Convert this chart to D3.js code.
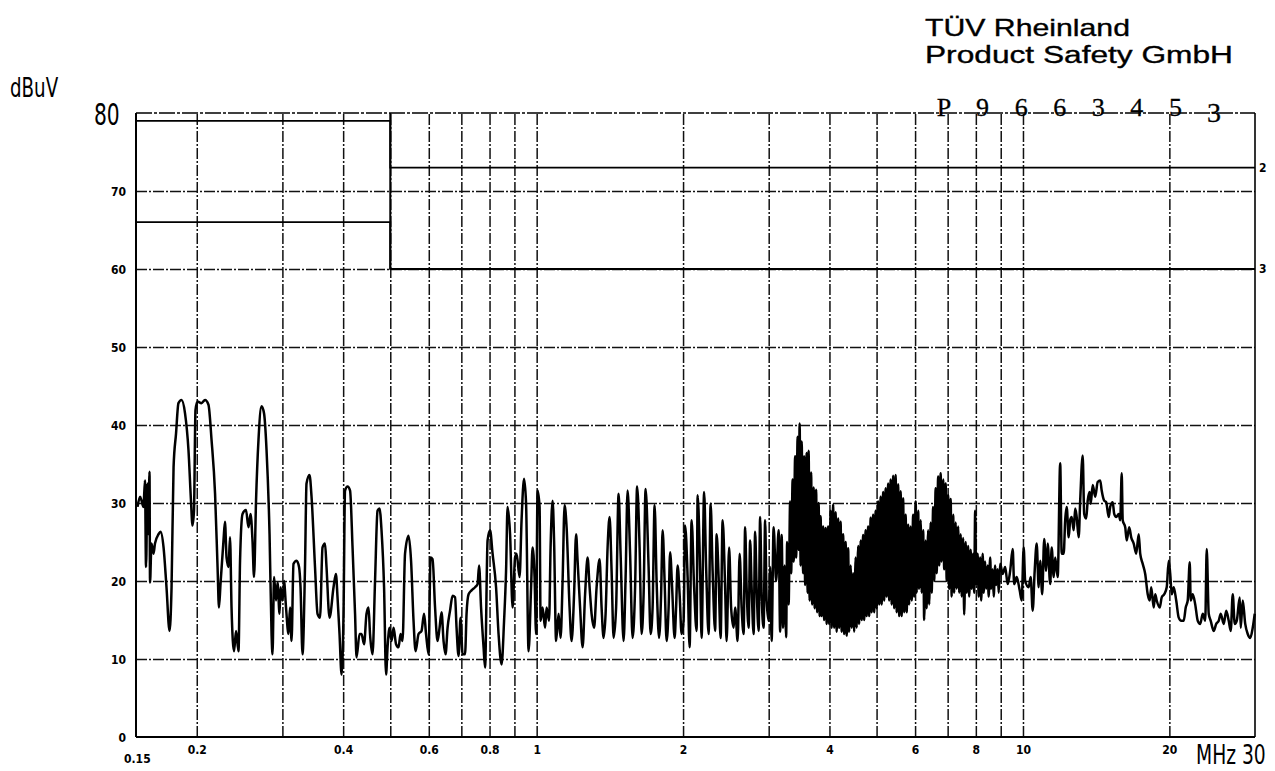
<!DOCTYPE html>
<html>
<head>
<meta charset="utf-8">
<script src="https://cdn.jsdelivr.net/npm/d3@7"></script>
<style>
  html, body { margin: 0; padding: 0; background: #fff; }
  svg { display: block; }
  .narrow { font-family: "Liberation Sans Narrow", "DejaVu Sans Condensed", "DejaVu Sans", sans-serif; font-stretch: condensed; }
  .tick-lbl { font-family: "DejaVu Sans Condensed", "DejaVu Sans", sans-serif; font-stretch: condensed; font-weight: bold; font-size: 12px; fill: #000; }
</style>
</head>
<body>
<svg id="chart" width="1275" height="771"></svg>
<script>
// Conducted emission scan, 150 kHz – 30 MHz, level in dBµV

const yTicks = [10, 20, 30, 40, 50, 60, 70];
const xTickLabels = [0.2, 0.4, 0.6, 0.8, 1, 2, 4, 6, 8, 10, 20];
const xGrid = [0.2, 0.3, 0.4, 0.5, 0.6, 0.7, 0.8, 0.9, 1, 2, 3, 4, 5, 6, 7, 8, 9, 10, 20];

// Limit lines (quasi-peak "2" and average "3")
const limitQP = [[0.15, 79], [0.5, 79], [0.5, 73], [30, 73]];
const limitAV = [[0.15, 66], [0.5, 66], [0.5, 60], [30, 60]];

const headerLines = ["TÜV Rheinland", "Product Safety GmbH"];
const reportNo = ["P", "9", "6", "6", "3", "4", "5", "3"];

// Measured trace, [MHz, dBµV]
const scan150k = [[0.1511,29.5],[0.1529,30.8],[0.1540,30.3],[0.1554,29.5],[0.1565,32.9],[0.1573,21.8],[0.1584,32.5],[0.1591,26],[0.1599,34],[0.1603,19.8],[0.1614,24.8],[0.1630,23.5],[0.1641,24.8],[0.1669,26],[0.1685,26.3],[0.1709,24.3],[0.1733,19.2],[0.1758,13.6],[0.1775,19.2],[0.1792,34.6],[0.1813,38.9],[0.1834,42.8],[0.1861,43.2],[0.1892,41.5],[0.1923,36.8],[0.1946,30.3],[0.1960,27.1],[0.1974,29],[0.1988,41.9],[0.2007,43],[0.2045,42.8],[0.2080,43.2],[0.2114,42.6],[0.2145,38.1],[0.2181,31.2],[0.2207,21.8],[0.2222,16.6],[0.2238,19.6],[0.2270,25.2],[0.2286,27.6],[0.2303,23],[0.2325,21.8],[0.2341,25.6],[0.2358,16.6],[0.2386,11],[0.2409,13.6],[0.2437,11],[0.2455,22.6],[0.2484,28.6],[0.2525,29.1],[0.2555,26.9],[0.2580,28.6],[0.2604,25.2],[0.2623,20.5],[0.2648,30.3],[0.2679,38.1],[0.2718,42.4],[0.2750,41.5],[0.2783,36.8],[0.2823,26],[0.2850,13.2],[0.2863,10.6],[0.2884,20.5],[0.2911,17.5],[0.2932,19.8],[0.2960,15.8],[0.2974,19.2],[0.3002,17.5],[0.3023,20],[0.3052,16.6],[0.3088,13.2],[0.3110,16.6],[0.3133,12.3],[0.3162,22.2],[0.3208,22.6],[0.3246,21.8],[0.3269,19.2],[0.3300,10.6],[0.3339,21.8],[0.3363,32.5],[0.3411,33.6],[0.3444,30.8],[0.3501,21.8],[0.3543,15.8],[0.3585,15.3],[0.3628,24.3],[0.3671,24.8],[0.3697,21.8],[0.3750,15.3],[0.3822,19.2],[0.3865,20.9],[0.3895,17.9],[0.3932,13.2],[0.3970,8],[0.4007,15.8],[0.4036,31.6],[0.4084,32.1],[0.4133,31.6],[0.4182,24.3],[0.4232,15.8],[0.4262,10.2],[0.4323,13.2],[0.4364,13.2],[0.4416,11.9],[0.4468,15.8],[0.4511,16.6],[0.4543,13.2],[0.4597,10.6],[0.4652,20],[0.4707,29],[0.4752,29.3],[0.4797,26.5],[0.4855,19.2],[0.4901,8],[0.4936,11.5],[0.4983,14]];

const scan500k = [[0.5030,12.3],[0.5078,14],[0.5139,11.9],[0.5200,11.5],[0.5249,13.2],[0.5299,12.3],[0.5362,23.5],[0.5452,25.8],[0.5517,22.6],[0.5582,14.9],[0.5636,11],[0.5716,13.2],[0.5798,13.6],[0.5867,15.8],[0.5923,13.2],[0.5994,10.6],[0.6051,23],[0.6108,22.8],[0.6181,16.6],[0.6254,12.3],[0.6314,14],[0.6374,16],[0.6435,12.3],[0.6496,10.6],[0.6558,14],[0.6636,16.2],[0.6715,18.1],[0.6795,17.9],[0.6843,14],[0.6909,10.4],[0.6974,15.3],[0.7041,10.6],[0.7124,10.6],[0.7175,15.8],[0.7244,18.3],[0.7347,18.8],[0.7470,19.2],[0.7559,19.6],[0.7613,22],[0.7685,16.6],[0.7777,11.5],[0.7832,8.9],[0.7926,25.2],[0.8020,26.5],[0.8116,23.5],[0.8251,19.2],[0.8349,13.2],[0.8469,9.3],[0.8570,14.9],[0.8651,21.3],[0.8713,29.5],[0.8817,26],[0.8922,16.6],[0.9028,23],[0.9092,23.5],[0.9223,20.5],[0.9310,27.8],[0.9421,33.1],[0.9511,29.9],[0.9624,11],[0.9739,19.2],[0.9808,24.3],[0.9901,20.5],[0.9972,13.2],[1.0043,31.6],[1.0139,29.5],[1.0187,14.9],[1.0284,16.6],[1.0406,14],[1.0480,16.6],[1.0605,14.9],[1.0681,24.3],[1.0783,30.3],[1.0859,25.2],[1.0963,12.3],[1.1093,15.8],[1.1199,12.7],[1.1306,20],[1.1413,29.7],[1.1522,26.9],[1.1686,16.6],[1.1798,12.3],[1.1938,18.3],[1.2052,26],[1.2138,22.6],[1.2282,16.6],[1.2429,11.5],[1.2577,18.3],[1.2727,23],[1.2848,19.2],[1.2970,15.8],[1.3124,14],[1.3281,19.2],[1.3471,22.8],[1.3599,16.6],[1.3728,12.7],[1.3859,15.8],[1.3991,24.3],[1.4124,28.2],[1.4258,21.3],[1.4394,12.7],[1.4566,16.6],[1.4739,31.2],[1.4879,23.5],[1.5092,12.3],[1.5236,20.5],[1.5381,31.6],[1.5564,23.5],[1.5749,12.7],[1.5937,19.2],[1.6089,32.1],[1.6280,24.3],[1.6435,13.2],[1.6592,18.3],[1.6749,31.8],[1.6989,21.8],[1.7151,13.2],[1.7314,16.6],[1.7479,29.7],[1.7645,20],[1.7855,12.7],[1.8025,18.3],[1.8154,26.5],[1.8326,20],[1.8501,12.3],[1.8677,16.6],[1.8810,23.7],[1.8989,19.2],[1.9215,12.7],[1.9352,16.6],[1.9490,22],[1.9676,18.3],[1.9863,13.2],[2.0052,14.9],[2.0195,27.1],[2.0436,20.5],[2.0630,11.5],[2.0826,27.8],[2.1074,19.2],[2.1325,13.6],[2.1427,31],[2.1682,21.3],[2.1836,12.7],[2.2096,31.4],[2.2307,21.8],[2.2573,13.2],[2.2787,29.9],[2.3004,21.3],[2.3278,13.6],[2.3444,26],[2.3667,20.5],[2.3892,12.7],[2.4120,27.8],[2.4407,19.2],[2.4581,12.3],[2.4874,24.3],[2.5110,16.6],[2.5409,14],[2.5591,16.6],[2.5896,12.3],[2.6142,23.5],[2.6390,16.6],[2.6642,13.2],[2.6832,26.9],[2.7023,19.2],[2.7280,14],[2.7475,25.2],[2.7670,19.2],[2.7934,13.2],[2.8133,26.3],[2.8334,19.2],[2.8603,13.6],[2.8807,28.2],[2.9012,18.3],[2.9289,14],[2.9497,27.8],[2.9708,17.5],[2.9991,14.9]];

const scan3M = [[3.0204,21.8],[3.0419,12.3],[3.0709,26.9],[3.1075,20],[3.1445,26.5],[3.1669,13.5],[3.1895,25.9],[3.2122,14],[3.2351,22],[3.2582,12.8],[3.2737,25],[3.2970,17],[3.3205,30.2],[3.3363,21],[3.3601,33],[3.3760,22.5],[3.4001,36],[3.4162,23],[3.4406,38.5],[3.4569,24],[3.4733,40.2],[3.4898,22],[3.5064,37.9],[3.5313,21],[3.5481,36],[3.5650,19.5],[3.5904,36.4],[3.6075,18.5],[3.6246,36.7],[3.6418,17.5],[3.6677,33.9],[3.6851,17],[3.7114,32],[3.7290,16.5],[3.7556,31.7],[3.7735,16],[3.8004,30],[3.8184,15.5],[3.8365,28.3],[3.8547,15.5],[3.8822,27],[3.9006,15],[3.9284,26.8],[3.9471,14.5],[3.9753,27],[3.9941,14.5],[4.0226,29],[4.0417,14],[4.0705,29.8],[4.0898,14],[4.1189,28.8],[4.1385,13.5],[4.1681,28],[4.1878,14],[4.2177,27.6],[4.2377,13.5],[4.2679,26],[4.2882,13.2],[4.3187,25],[4.3393,13],[4.3702,24.2],[4.3909,13.5],[4.4222,22],[4.4432,14],[4.4749,21],[4.4961,13.5],[4.5282,23],[4.5497,14],[4.5821,24.5],[4.6039,14.5],[4.6367,25.2],[4.6587,15],[4.6919,25.9],[4.7142,15],[4.7478,26.5],[4.7703,15.5],[4.8044,27],[4.8272,15.5],[4.8616,28.1],[4.8846,16],[4.9194,28.5],[4.9428,16],[4.9780,29],[5.0017,16.5],[5.0374,30.2],[5.0613,17],[5.0974,30.8],[5.1215,17],[5.1580,31.4],[5.1825,17.5],[5.2195,31.9],[5.2443,18],[5.2817,32.5],[5.3067,17.5],[5.3446,33],[5.3699,17],[5.4082,33.5],[5.4339,16.5],[5.4726,33.6],[5.4986,16],[5.5378,32.4],[5.5641,15.5],[5.6038,31.5],[5.6303,15.5],[5.6705,30.6],[5.6974,16],[5.7380,28.5],[5.7653,16],[5.8064,27.2],[5.8340,17],[5.8756,27],[5.9034,17.5],[5.9455,28.5],[5.9737,18],[6.0163,30.2],[6.0449,18.5],[6.0880,29],[6.1169,19],[6.1605,27.8],[6.1897,18.5],[6.2339,26.5],[6.2635,15],[6.3081,25.2],[6.3381,16.5],[6.3833,26.5],[6.4136,17],[6.4593,27.5],[6.4899,18.5],[6.5362,29.5],[6.5672,20],[6.6140,31.9],[6.6455,21],[6.6929,33.4],[6.7246,22],[6.7725,33.8],[6.8046,22.5],[6.8531,33],[6.8857,21.5],[6.9348,32.5],[6.9678,20],[7.0175,31],[7.0508,19],[7.1010,30.5],[7.1347,18],[7.1855,28.5],[7.2197,18.5],[7.2711,27.5],[7.3057,19],[7.3578,27],[7.3927,18.5],[7.4454,26],[7.4807,18],[7.5340,25.5],[7.5698,15.7],[7.6238,25],[7.6600,18.5],[7.7146,24.5],[7.7512,18],[7.8065,24],[7.8435,19],[7.8994,23.5],[7.9369,18.5],[7.9746,29],[8.0125,19.5],[8.0696,23.5],[8.1079,18],[8.1657,23],[8.2045,17.5],[8.2630,23.5],[8.3022,18.5],[8.3614,22.5],[8.4011,19],[8.4610,22],[8.5012,18],[8.5617,23],[8.6024,19],[8.6637,21.5],[8.7048,18],[8.7669,22],[8.8086,19.5],[8.8714,21.5],[8.9135,18.5],[8.9770,22.2],[9.0839,20.9],[9.1921,21.8],[9.3016,19.6],[9.4123,21.3],[9.5245,24.1],[9.5923,19.6],[9.7066,20.5],[9.8455,18.8],[9.9391,17.5]];

const scan10M = [[10.034,24.3],[10.105,20],[10.274,19.2],[10.372,20.5],[10.471,16.2],[10.570,21.3],[10.671,24.8],[10.772,19.2],[10.849,22.6],[10.953,18.3],[11.057,25.4],[11.162,21.3],[11.242,24.8],[11.375,19.6],[11.456,24.3],[11.566,20.5],[11.648,23],[11.787,20.5],[11.927,35.1],[12.012,23.5],[12.126,23.5],[12.213,27.8],[12.300,29.5],[12.417,25.6],[12.506,27.8],[12.595,28.2],[12.714,26.5],[12.805,29.3],[12.896,28.2],[13.019,25.6],[13.112,30.3],[13.268,36.1],[13.363,28.6],[13.490,28],[13.586,30.3],[13.715,31.4],[13.781,29.9],[13.912,32.3],[14.077,30.8],[14.245,32.7],[14.415,32.9],[14.517,31.6],[14.690,30.3],[14.830,30.1],[15.007,28.2],[15.114,29.5],[15.294,30.1],[15.403,28.6],[15.550,28.2],[15.735,28.6],[15.847,27.8],[15.960,33.8],[16.036,27.8],[16.227,26.9],[16.342,25.2],[16.537,26.9],[16.694,25.6],[16.893,24.8],[17.094,23.5],[17.298,26],[17.421,23.5],[17.629,22.2],[17.839,20.9],[18.051,18.3],[18.223,17.5],[18.353,19.2],[18.571,16.6],[18.704,18.3],[18.837,17.5],[19.107,16.6],[19.288,17.9],[19.518,18.3],[19.751,19.2],[19.939,22.6],[20.081,20.9],[20.224,18.3],[20.416,19.2],[20.660,17.5],[20.906,15.3],[21.155,14.9],[21.406,14.9],[21.610,16.6],[21.816,17.5],[22.024,22.4],[22.128,17.5],[22.339,18.3],[22.605,17],[22.874,14.9],[23.146,14.5],[23.422,15.8],[23.701,14.9],[23.870,24.1],[24.097,15.8],[24.327,14.9],[24.674,13.6],[24.969,14.5],[25.266,14.9],[25.506,15.8],[25.871,14.5],[26.180,16.2],[26.491,14.9],[26.743,13.6],[26.998,18.3],[27.255,14.5],[27.514,14.9],[27.908,17.9],[28.040,14],[28.307,17.5],[28.644,14.5],[28.986,13.2],[29.331,12.7],[29.680,14],[29.962,15.8]];

// ---- layout ----
const svg = d3.select("#chart");
const plot = { left: 136, right: 1255, top: 113, bottom: 737 };

const x = d3.scaleLog().domain([0.15, 30]).range([plot.left, plot.right]);
const y = d3.scaleLinear().domain([0, 80]).range([plot.bottom, plot.top]);

const gridDash = "11,2,2,2";

// horizontal grid
svg.append("g")
  .attr("transform", `translate(${plot.left},0)`)
  .call(d3.axisLeft(y).tickValues(yTicks).tickSize(-(plot.right - plot.left)).tickFormat(""))
  .call(g => g.select(".domain").remove())
  .call(g => g.selectAll(".tick line").attr("stroke", "#111").attr("stroke-width", 1.5).attr("stroke-dasharray", gridDash));

// vertical grid
svg.append("g")
  .attr("transform", `translate(0,${plot.bottom})`)
  .call(d3.axisBottom(x).tickValues(xGrid).tickSize(-(plot.bottom - plot.top)).tickFormat(""))
  .call(g => g.select(".domain").remove())
  .call(g => g.selectAll(".tick line").attr("stroke", "#111").attr("stroke-width", 1.5).attr("stroke-dasharray", gridDash));

// frame
const frame = svg.append("g").attr("fill", "none").attr("stroke", "#000");
frame.append("line").attr("x1", plot.left).attr("x2", plot.right).attr("y1", y(80)).attr("y2", y(80))
  .attr("stroke-width", 1.6).attr("stroke-dasharray", "16,2,3,2");
frame.append("line").attr("x1", plot.left).attr("x2", plot.right).attr("y1", y(0)).attr("y2", y(0)).attr("stroke-width", 2);
frame.append("line").attr("x1", plot.left).attr("x2", plot.left).attr("y1", y(80)).attr("y2", y(0)).attr("stroke-width", 2);
frame.append("line").attr("x1", plot.right).attr("x2", plot.right).attr("y1", y(80)).attr("y2", y(0)).attr("stroke-width", 1.6);

// limit lines
const limitLine = d3.line().x(d => x(d[0])).y(d => y(d[1]));
svg.append("g").attr("fill", "none").attr("stroke", "#000").attr("stroke-width", 1.8)
  .selectAll("path").data([limitQP, limitAV]).join("path").attr("d", limitLine);
svg.append("line").attr("stroke", "#000").attr("stroke-width", 2)
  .attr("x1", x(0.5)).attr("x2", x(0.5)).attr("y1", y(80)).attr("y2", y(60));

svg.append("text").attr("class", "tick-lbl").attr("x", plot.right + 4).attr("y", y(73) + 4).text("2");
svg.append("text").attr("class", "tick-lbl").attr("x", plot.right + 4).attr("y", y(60) + 4).text("3");

// measured trace
const trace = scan150k.concat(scan500k, scan3M, scan10M);
svg.append("path")
  .datum(trace)
  .attr("fill", "none")
  .attr("stroke", "#000")
  .attr("stroke-width", 2.5)
  .attr("stroke-linejoin", "round")
  .attr("d", d3.line().curve(d3.curveMonotoneX).x(d => x(d[0])).y(d => y(d[1])));

// y tick labels
svg.append("g")
  .attr("transform", `translate(${plot.left},0)`)
  .call(d3.axisLeft(y).tickValues(yTicks).tickSize(0).tickPadding(10).tickFormat(d3.format("d")))
  .call(g => g.select(".domain").remove())
  .call(g => g.selectAll("text").attr("class", "tick-lbl").attr("dy", "0.35em"));

svg.append("text").attr("class", "tick-lbl").attr("x", plot.left - 10).attr("y", y(0) + 5)
  .attr("text-anchor", "end").text("0");

// x tick labels
svg.append("g")
  .attr("transform", `translate(0,${plot.bottom})`)
  .call(d3.axisBottom(x).tickValues(xTickLabels).tickSize(0).tickPadding(8).tickFormat(d => String(d)))
  .call(g => g.select(".domain").remove())
  .call(g => g.selectAll("text").attr("class", "tick-lbl").attr("dy", "0.71em"));

svg.append("text").attr("class", "tick-lbl").attr("x", plot.left - 12).attr("y", plot.bottom + 26).text("0.15");

// unit labels (narrow lettering done by horizontal scaling)
svg.append("text").attr("class", "narrow").attr("font-size", 26)
  .attr("transform", "translate(10,97) scale(0.78,1)").text("dBuV");
svg.append("text").attr("class", "narrow").attr("font-size", 30)
  .attr("transform", "translate(94,125) scale(0.75,1)").text("80");
svg.append("text").attr("class", "narrow").attr("font-size", 26)
  .attr("transform", "translate(1196,764) scale(0.8,1)").text("MHz 30");

// header
const head = svg.append("g").attr("font-family", "'Liberation Sans', Arial, sans-serif").attr("fill", "#000")
  .attr("stroke", "#000").attr("stroke-width", 0.35);
head.append("text").attr("x", 925).attr("y", 36).attr("font-size", 24)
  .attr("textLength", 205).attr("lengthAdjust", "spacingAndGlyphs").text(headerLines[0]);
head.append("text").attr("x", 925).attr("y", 63).attr("font-size", 23.5)
  .attr("textLength", 308).attr("lengthAdjust", "spacingAndGlyphs").text(headerLines[1]);

const rx = d3.scalePoint().domain(d3.range(reportNo.length)).range([944, 1214]);
svg.append("g").attr("font-family", "'Liberation Serif', 'DejaVu Serif', serif")
  .attr("text-anchor", "middle").attr("fill", "#000").attr("stroke", "#000").attr("stroke-width", 0.3)
  .selectAll("text").data(reportNo).join("text")
  .attr("x", (d, i) => rx(i))
  .attr("y", (d, i) => i === reportNo.length - 1 ? 122 : 116)
  .attr("font-size", (d, i) => i === reportNo.length - 1 ? 28 : 26)
  .text(d => d);
</script>
</body>
</html>
